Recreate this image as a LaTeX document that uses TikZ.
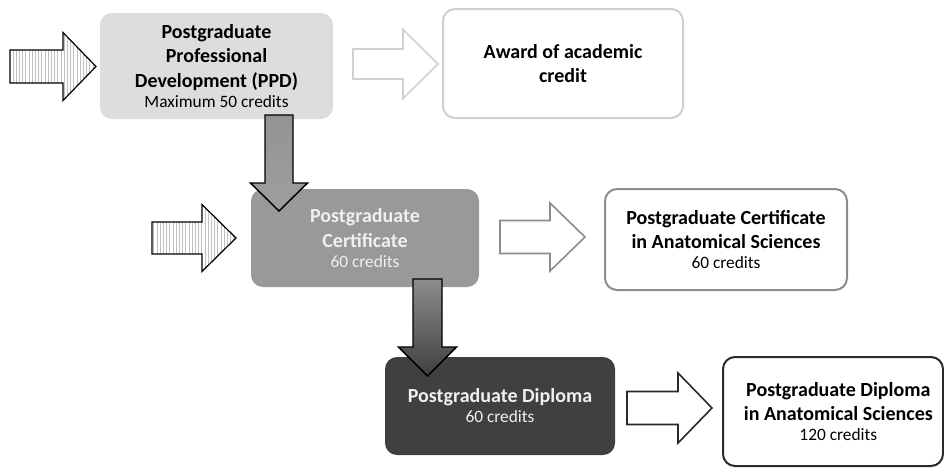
\documentclass[tikz,border=0pt]{standalone}
\usepackage{fontspec}
\setmainfont{Carlito}
\usepackage{tikz}
\usetikzlibrary{
	positioning,
	calc,
	patterns.meta
}
\definecolor{ppdfill}{HTML}{DDDDDD}
\definecolor{certfill}{HTML}{9A9898}
\definecolor{diplfill}{HTML}{404040}
\definecolor{lightline}{HTML}{D0D0D0}
\definecolor{midline}{HTML}{8C8C8C}
\definecolor{darkline}{HTML}{2A2A2A}
\tikzset{
	every picture/.style={
		x=.75pt,
		y=-.75pt,
		line join=miter,
	},
}
\tikzstyle{stage} = [
	rounded corners=9pt,
	align=center,
	inner sep=0mm,
	font=\fontsize{15}{18.5}\selectfont\bfseries,
	text=black
]
\tikzstyle{outcome} = [stage, fill=white, line width=1.5pt]
\tikzstyle{striped} = [
	draw=black,
	line width=.9pt,
	pattern={Lines[angle=90, distance=2.4pt, line width=.4pt]},
	pattern color=gray!50
]
\tikzstyle{hollow} = [draw, fill=white, line width=1.2pt]
\newcommand{\credits}[1]{\\[-3.5pt]{\fontsize{13}{16}\selectfont\mdseries #1}}
% horizontal block arrow: tail, length, shaft half, head half, head length
\newcommand{\harrow}[6][]{
	\draw[#1, shift={#2}] (0,-#4) -- (#3-#6,-#4) -- (#3-#6,-#5) -- (#3,0)
		-- (#3-#6,#5) -- (#3-#6,#4) -- (0,#4) -- cycle;
}
% vertical block arrow, pointing down
\newcommand{\varrow}[6][]{
	\draw[#1, shift={#2}] (-#4,0) -- (-#4,#3-#6) -- (-#5,#3-#6) -- (0,#3)
		-- (#5,#3-#6) -- (#4,#3-#6) -- (#4,0) -- cycle;
}

\begin{document}
\begin{tikzpicture}
\useasboundingbox (0,0) rectangle (944,468);

\node[stage, fill=ppdfill, minimum width=233*.75pt, minimum height=106*.75pt] (ppd) at (216.5,66) {
	Postgraduate\\Professional\\Development (PPD)\credits{Maximum 50 credits}
};
\node[outcome, draw=lightline, minimum width=240*.75pt, minimum height=109*.75pt] (award) at (563,63.5) {
	Award of academic\\credit
};
\node[stage, fill=certfill, text=white!94!black, minimum width=228*.75pt, minimum height=98*.75pt] (cert) at (365,238) {
	Postgraduate\\Certificate\credits{60 credits}
};
\node[outcome, draw=midline, minimum width=242*.75pt, minimum height=101*.75pt] (pgcert) at (726,239.5) {
	Postgraduate Certificate\\in Anatomical Sciences\credits{60 credits}
};
\node[stage, fill=diplfill, text=white!94!black, minimum width=230*.75pt, minimum height=98*.75pt] (dipl) at (500,406) {
	Postgraduate Diploma\credits{60 credits}
};
\node[outcome, draw=darkline, minimum width=220*.75pt, minimum height=109*.75pt] (dipanat) at (833,411.5) {
	\hspace*{8pt}Postgraduate Diploma\\\hspace*{8pt}in Anatomical Sciences\credits{\hspace*{8pt}120 credits}
};

\harrow[striped]{(10,66.5)}{86}{16.5}{34}{33}
\harrow[hollow, draw=lightline]{(353,64)}{85}{15}{34.5}{35}
\harrow[striped]{(152,238)}{84}{16}{33.5}{34}
\harrow[hollow, draw=midline]{(500,237)}{85}{16.5}{34}{35}
\harrow[hollow, draw=darkline]{(627,408)}{85}{16.5}{35}{34}

\varrow[draw=black, line width=1.1pt, top color=black!42, middle color=black!16, bottom color=black!38]{(279,115)}{96}{14}{28.5}{28}
\varrow[draw=black, line width=1.1pt, top color=black!45, bottom color=black!75]{(427.5,279)}{97}{14.5}{29}{29}
\end{tikzpicture}
\end{document}
